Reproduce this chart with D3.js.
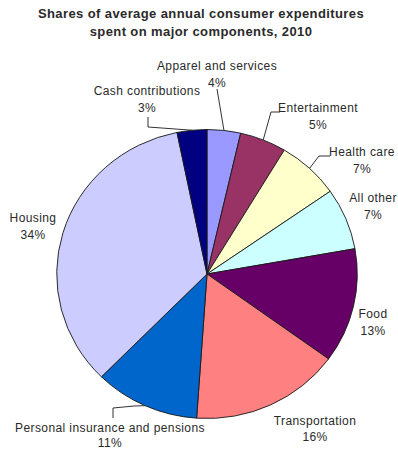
<!DOCTYPE html>
<html>
<head>
<meta charset="utf-8">
<script src="https://cdn.jsdelivr.net/npm/d3@7"></script>
<style>
  body { margin: 0; background: #fff; }
  text { font-family: Arial, "Liberation Sans", sans-serif; fill: #2a2a2a; }
</style>
</head>
<body>
<svg id="canvas" width="398" height="452"></svg>
<script>
// ---- data (clockwise from 12 o'clock) ----
var categories = ["Apparel and services", "Entertainment", "Health care", "All other", "Food",
                  "Transportation", "Personal insurance and pensions", "Housing", "Cash contributions"];
var shares = [3.6, 5.0, 6.7, 6.9, 12.8, 16.1, 11.3, 34.4, 3.2];
var colors = ["#9999ff", "#993366", "#ffffcc", "#ccffff", "#660066",
              "#ff8080", "#0066cc", "#ccccff", "#000080"];
var titleLines = ["Shares of average annual consumer expenditures", "spent on major components, 2010"];

// ---- layout ----
var cx = 207, cy = 274, r = 144.5, sx = 1.04;

// label anchor (centre of first line), line gap, and leader elbows, screen coords
var labelPos = [[217, 66], [318, 108], [362, 152], [373, 198], [373, 314],
                [315, 421], [110, 428], [33, 218], [147, 91]];
var lineGap = [17, 17, 17, 17, 17, 16, 15, 17, 17];
var leaderElbows = [
  [[217, 89]],
  [[280, 112], [271, 112]],
  [[330, 156], [319, 156]],
  null, null, null,
  [[113, 418], [113, 408], [134, 406]],
  null,
  [[148, 117], [148, 127]]
];

var svg = d3.select('#canvas');

// title
svg.append('text').attr('x', 201).attr('y', 18).attr('text-anchor', 'middle')
  .style('font-size', '13px').style('font-weight', 'bold').style('letter-spacing', '0.4px')
  .selectAll('tspan').data(titleLines).enter().append('tspan')
  .attr('x', 201).attr('dy', (d, i) => i ? 18 : 0).text(d => d);

// pie
var pie = d3.pie().sort(null).value(d => d);
var arcs = pie(shares);
var arcGen = d3.arc().innerRadius(0).outerRadius(r);

var g = svg.append('g').attr('transform', 'translate(' + cx + ',' + cy + ') scale(' + sx + ',1)');
g.selectAll('path').data(arcs).enter().append('path')
  .attr('d', arcGen)
  .style('fill', (d, i) => colors[i])
  .style('stroke', '#1a1a1a')
  .style('stroke-width', 0.9)
  .style('stroke-linejoin', 'round');

// leader lines
function edgePoint(d){
  var a = (d.startAngle + d.endAngle) / 2;
  return [cx + sx * r * Math.sin(a), cy - r * Math.cos(a)];
}
var lineGen = d3.line();
arcs.forEach((d, i) => {
  if(!leaderElbows[i]) return;
  var pts = leaderElbows[i].concat([edgePoint(d)]);
  svg.append('path').attr('d', lineGen(pts))
    .style('fill', 'none').style('stroke', '#333').style('stroke-width', 1);
});

// labels
var fmt = d => Math.round(d) + '%';
arcs.forEach((d, i) => {
  var t = svg.append('text').attr('text-anchor', 'middle')
    .style('font-size', '12px').style('letter-spacing', '0.4px');
  t.append('tspan').attr('x', labelPos[i][0]).attr('y', labelPos[i][1] + 4).text(categories[i]);
  t.append('tspan').attr('x', labelPos[i][0]).attr('dy', lineGap[i]).text(fmt(d.data));
});
</script>
</body>
</html>
